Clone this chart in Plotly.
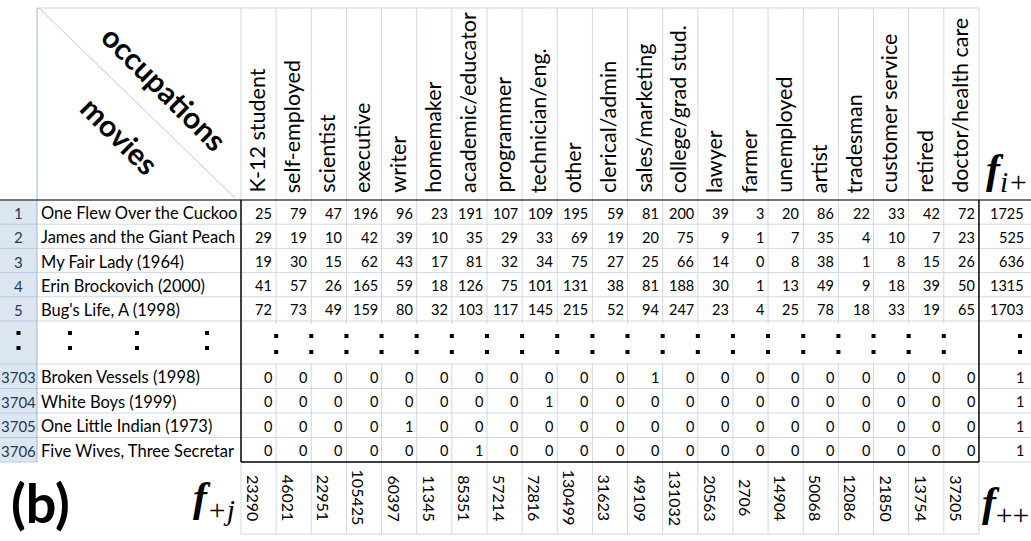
import plotly.graph_objects as go

# ------------------------------------------------------------
# data: movie x occupation counts (MovieLens), first / last rows
# ------------------------------------------------------------
occupations = ["K-12 student", "self-employed", "scientist", "executive", "writer",
               "homemaker", "academic/educator", "programmer", "technician/eng.", "other",
               "clerical/admin", "sales/marketing", "college/grad stud.", "lawyer", "farmer",
               "unemployed", "artist", "tradesman", "customer service", "retired",
               "doctor/health care"]

movie_ids = ["1", "2", "3", "4", "5", "3703", "3704", "3705", "3706"]
movie_titles = ["One Flew Over the Cuckoo", "James and the Giant Peach", "My Fair Lady (1964)",
                "Erin Brockovich (2000)", "Bug's Life, A (1998)", "Broken Vessels (1998)",
                "White Boys (1999)", "One Little Indian (1973)", "Five Wives, Three Secretar"]

one_flew     = [25, 79, 47, 196, 96, 23, 191, 107, 109, 195, 59, 81, 200, 39, 3, 20, 86, 22, 33, 42, 72]
giant_peach  = [29, 19, 10, 42, 39, 10, 35, 29, 33, 69, 19, 20, 75, 9, 1, 7, 35, 4, 10, 7, 23]
fair_lady    = [19, 30, 15, 62, 43, 17, 81, 32, 34, 75, 27, 25, 66, 14, 0, 8, 38, 1, 8, 15, 26]
brockovich   = [41, 57, 26, 165, 59, 18, 126, 75, 101, 131, 38, 81, 188, 30, 1, 13, 49, 9, 18, 39, 50]
bugs_life    = [72, 73, 49, 159, 80, 32, 103, 117, 145, 215, 52, 94, 247, 23, 4, 25, 78, 18, 33, 19, 65]
broken_vess  = [0, 0, 0, 0, 0, 0, 0, 0, 0, 0, 0, 1, 0, 0, 0, 0, 0, 0, 0, 0, 0]
white_boys   = [0, 0, 0, 0, 0, 0, 0, 0, 1, 0, 0, 0, 0, 0, 0, 0, 0, 0, 0, 0, 0]
little_ind   = [0, 0, 0, 0, 1, 0, 0, 0, 0, 0, 0, 0, 0, 0, 0, 0, 0, 0, 0, 0, 0]
five_wives   = [0, 0, 0, 0, 0, 0, 1, 0, 0, 0, 0, 0, 0, 0, 0, 0, 0, 0, 0, 0, 0]
counts = [one_flew, giant_peach, fair_lady, brockovich, bugs_life,
          broken_vess, white_boys, little_ind, five_wives]

row_totals = [1725, 525, 636, 1315, 1703, 1, 1, 1, 1]
col_totals = [23290, 46021, 22951, 105425, 60397, 11345, 85351, 57214, 72816, 130499,
              31623, 49109, 131032, 20563, 2706, 14904, 50068, 12086, 21850, 13754, 37205]

# ------------------------------------------------------------
# sheet geometry (pixels)
# ------------------------------------------------------------
W, H = 1031, 541
FONT = "Lato"
MATH = "Liberation Serif"
GRID = "#d0d7e5"
HEAD_LINE = "#9eb6ce"

X_NUM = 37          # right edge of row-number column
X_DATA = 241        # first occupation column
COL_W = 35.14
NC = len(occupations)
X_END = X_DATA + COL_W * NC
Y_TOP = 8
Y_HEAD = 200
RH_TOP = 24.2
RH_BOT = 24.5
Y_GAP0 = Y_HEAD + 5 * RH_TOP
Y_GAP1 = 364
Y_BODY = Y_GAP1 + 4 * RH_BOT
Y_FOOT = 534

row_top = [Y_HEAD + i * RH_TOP for i in range(5)] + [Y_GAP1 + i * RH_BOT for i in range(4)]
row_h = [RH_TOP] * 5 + [RH_BOT] * 4
col_left = [X_DATA + k * COL_W for k in range(NC + 1)]


def txt(x, y, s, size, xa="center", ya="middle", angle=0, family=FONT, color="black"):
    return dict(x=x, y=y, xref="x", yref="y", text=s, showarrow=False,
                xanchor=xa, yanchor=ya, textangle=angle, borderpad=0,
                font=dict(family=family, size=size, color=color))


def line(x0, y0, x1, y1, color=GRID, width=1):
    return dict(type="line", xref="x", yref="y", x0=x0, y0=y0, x1=x1, y1=y1,
                line=dict(color=color, width=width), layer="above")


shapes = []
ann = []

# row-number column background
shapes.append(dict(type="rect", xref="x", yref="y", x0=0, x1=X_NUM, y0=Y_HEAD, y1=Y_BODY,
                   fillcolor="#dce6f1", line=dict(width=0), layer="below"))

# horizontal gridlines inside the body
for y in row_top[1:] + [Y_GAP0]:
    shapes.append(line(0, y, X_NUM, y, "#b9cbe0"))
    shapes.append(line(X_NUM, y, W, y))
shapes.append(line(0, Y_BODY, X_NUM, Y_BODY, "#b9cbe0"))
shapes.append(line(X_END, Y_BODY, W, Y_BODY))

# vertical gridlines (interrupted by the ellipsis row)
for k in range(1, NC):
    x = col_left[k]
    shapes.append(line(x, Y_TOP, x, Y_GAP0 + 3))
    shapes.append(line(x, Y_GAP1, x, Y_FOOT))
shapes.append(line(X_DATA, Y_TOP, X_DATA, Y_HEAD))
shapes.append(line(X_END, Y_TOP, X_END, Y_HEAD))
shapes.append(line(X_DATA, Y_BODY, X_DATA, Y_FOOT))
shapes.append(line(X_END, Y_BODY, X_END, Y_FOOT))
shapes.append(line(X_DATA, Y_FOOT, X_END, Y_FOOT))

# header frame + diagonal
shapes.append(line(X_NUM, Y_TOP, X_END, Y_TOP))
shapes.append(line(X_NUM, Y_TOP, X_NUM, Y_BODY, HEAD_LINE))
shapes.append(line(X_NUM + 2, Y_TOP, X_DATA - 6, Y_HEAD - 2, "#c3c9d3"))

# dark header rule and black frame round the counts
shapes.append(line(0, Y_HEAD, W, Y_HEAD, "#4a4a4a", 1.6))
shapes.append(line(X_DATA, Y_HEAD, X_DATA, Y_BODY, "black", 1.5))
shapes.append(line(X_END, Y_HEAD, X_END, Y_BODY, "black", 1.5))
shapes.append(line(X_DATA, Y_BODY, X_END, Y_BODY, "black", 1.5))

# corner labels
ann.append(txt(165, 88, "<b>occupations</b>", 30, angle=45))
ann.append(txt(120, 135, "<b>movies</b>", 30, angle=45))

# occupation headers
for k, name in enumerate(occupations):
    ann.append(txt(col_left[k] + COL_W / 2 - 2, Y_HEAD - 6, name, 21.5, ya="bottom", angle=-90))

# body rows
for i in range(len(movie_ids)):
    yc = row_top[i] + row_h[i] / 2 + 1
    ann.append(txt(X_NUM / 2, yc, movie_ids[i], 15, color="#243a55"))
    ann.append(txt(X_NUM + 3, yc, movie_titles[i], 16.5, xa="left"))
    for k, v in enumerate(counts[i]):
        ann.append(txt(col_left[k + 1] - 3, yc, str(v), 14.5, xa="right"))
    ann.append(txt(W - 6, yc, str(row_totals[i]), 14.5, xa="right"))

# column totals, rotated
for k, v in enumerate(col_totals):
    ann.append(txt(col_left[k] + 13, (Y_BODY + Y_FOOT) / 2, str(v), 16, angle=90))

# ellipsis row
dot_x = [X_NUM / 2, 70, 137, 207]
dot_x2 = [col_left[k] for k in range(1, NC)] + [1020]
fig = go.Figure()
fig.add_trace(go.Scatter(
    x=dot_x + dot_x + dot_x2 + dot_x2,
    y=[333] * len(dot_x) + [348] * len(dot_x) + [336] * len(dot_x2) + [352] * len(dot_x2),
    mode="markers", marker=dict(symbol="square", size=4, color="black"),
    hoverinfo="skip"))

# formula labels
ann.append(txt(40, 502, "<b>(b)</b>", 54))
ann.append(txt(214, 500, "<b><i>f</i></b><sub><i>+j</i></sub>", 42, family=MATH))
ann.append(txt(1007, 172, "<b><i>f</i></b><sub><i>i+</i></sub>", 42, family=MATH))
ann.append(txt(1005, 505, "<b><i>f</i></b><sub>++</sub>", 42, family=MATH))

fig.update_layout(
    width=W, height=H,
    margin=dict(l=0, r=0, t=0, b=0),
    paper_bgcolor="white", plot_bgcolor="white",
    showlegend=False,
    xaxis=dict(range=[0, W], visible=False, fixedrange=True),
    yaxis=dict(range=[H, 0], visible=False, fixedrange=True),
    shapes=shapes, annotations=ann,
)

# drop the page's default body margin so the sheet sits at the window corner
fig.write_html("out.html", config={"displayModeBar": False},
               post_script="document.body.style.margin='0';")
